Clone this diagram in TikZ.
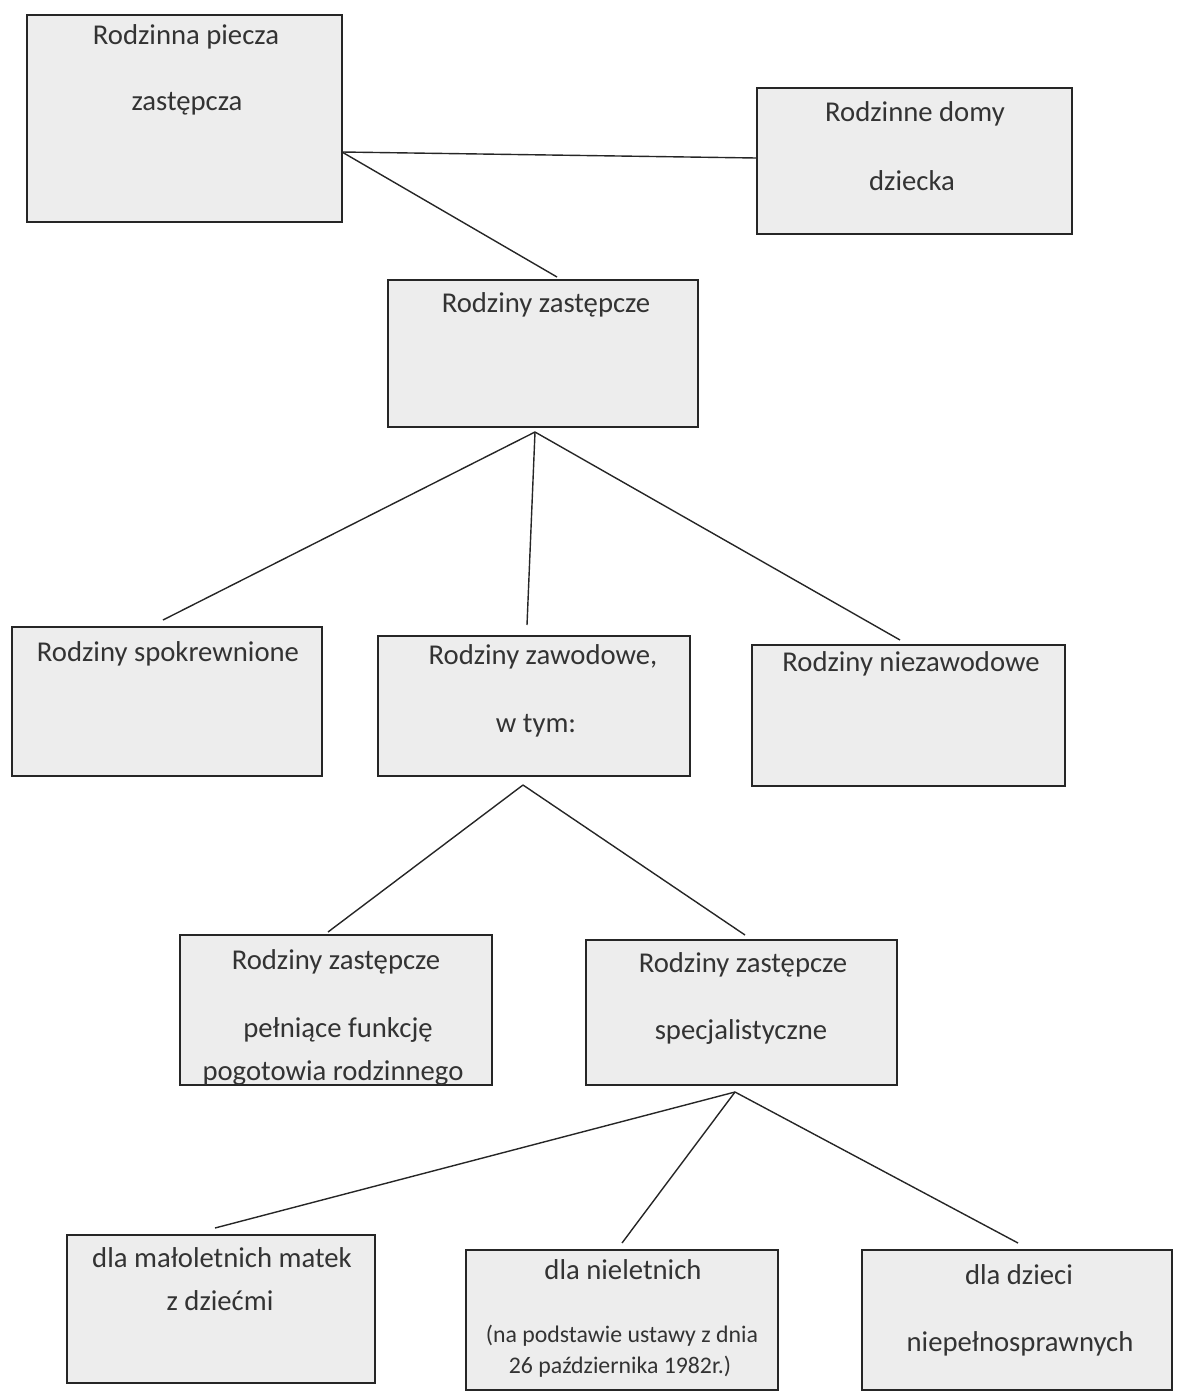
\documentclass[tikz,border=0pt]{standalone}
\usepackage{fontspec}
\setmainfont{Carlito}
\begin{document}
\begin{tikzpicture}[x=1pt,y=-1pt,
  box/.style={draw=black!85, line width=1.4pt, fill=black!7, inner sep=0pt},
  lbl/.style={text=black!80, font=\fontsize{28.7}{32}\selectfont, inner sep=0pt, anchor=base},
  small/.style={text=black!80, font=\fontsize{23.8}{27}\selectfont, inner sep=0pt, anchor=base},
  link/.style={draw=black!85, line width=1.4pt}]
\useasboundingbox (0,0) rectangle (1178,1392);
% boxes
\node[box, minimum width=315pt, minimum height=207pt] (b1) at (184.5,118.5) {};
\node[box, minimum width=315pt, minimum height=146pt] (b2) at (914.5,161) {};
\node[box, minimum width=310pt, minimum height=147pt] (b3) at (543,353.5) {};
\node[box, minimum width=310pt, minimum height=149pt] (b4) at (167,701.5) {};
\node[box, minimum width=312pt, minimum height=140pt] (b5) at (534,706) {};
\node[box, minimum width=313pt, minimum height=141pt] (b6) at (908.5,715.5) {};
\node[box, minimum width=312pt, minimum height=150pt] (b7) at (336,1010) {};
\node[box, minimum width=311pt, minimum height=145pt] (b8) at (741.5,1012.5) {};
\node[box, minimum width=308pt, minimum height=148pt] (b9) at (221,1309) {};
\node[box, minimum width=312pt, minimum height=140pt] (b10) at (622,1320) {};
\node[box, minimum width=310pt, minimum height=140pt] (b11) at (1017,1320) {};
% labels
\node[lbl] (t1a) at (186,44) {Rodzinna piecza};
\node[lbl] (t1b) at (187,110) {zastępcza};
\node[lbl] (t2a) at (915,121) {Rodzinne domy};
\node[lbl] (t2b) at (912,190) {dziecka};
\node[lbl] (t3a) at (546,312) {Rodziny zastępcze};
\node[lbl] (t4a) at (168,661) {Rodziny spokrewnione};
\node[lbl] (t5a) at (543,664) {Rodziny zawodowe,};
\node[lbl] (t5b) at (536,732) {w tym:};
\node[lbl] (t6a) at (911,671) {Rodziny niezawodowe};
\node[lbl] (t7a) at (336,969) {Rodziny zastępcze};
\node[lbl] (t7b) at (338,1037) {pełniące funkcję};
\node[lbl] (t7c) at (333,1080) {pogotowia rodzinnego};
\node[lbl] (t8a) at (743,972) {Rodziny zastępcze};
\node[lbl] (t8b) at (741,1039) {specjalistyczne};
\node[lbl] (t9a) at (222,1267) {dla małoletnich matek};
\node[lbl] (t9b) at (220,1310) {z dziećmi};
\node[lbl] (t10a) at (623,1279) {dla nieletnich};
\node[small] (t10b) at (622,1342) {(na podstawie ustawy z dnia};
\node[small] (t10c) at (620,1373) {26 października 1982r.)};
\node[lbl] (t11a) at (1019,1284) {dla dzieci};
\node[lbl] (t11b) at (1020,1351) {niepełnosprawnych};
% junction points
\coordinate (j1) at (342,152);
\coordinate (j3) at (535,432);
\coordinate (j5) at (523,785);
\coordinate (j8) at (735,1092);
% connectors
\draw[link] (j1) -- (b2.west |- 0,158);
\draw[link] (j1) -- (557,277) coordinate (e3);
\draw[link] (j3) -- (163,620) coordinate (e4);
\draw[link] (j3) -- (527,625) coordinate (e5);
\draw[link] (j3) -- (900,640) coordinate (e6);
\draw[link] (j5) -- (328,932) coordinate (e7);
\draw[link] (j5) -- (745,935) coordinate (e8);
\draw[link] (j8) -- (215,1228) coordinate (e9);
\draw[link] (j8) -- (622,1243) coordinate (e10);
\draw[link] (j8) -- (1018,1243) coordinate (e11);
\end{tikzpicture}
\end{document}
